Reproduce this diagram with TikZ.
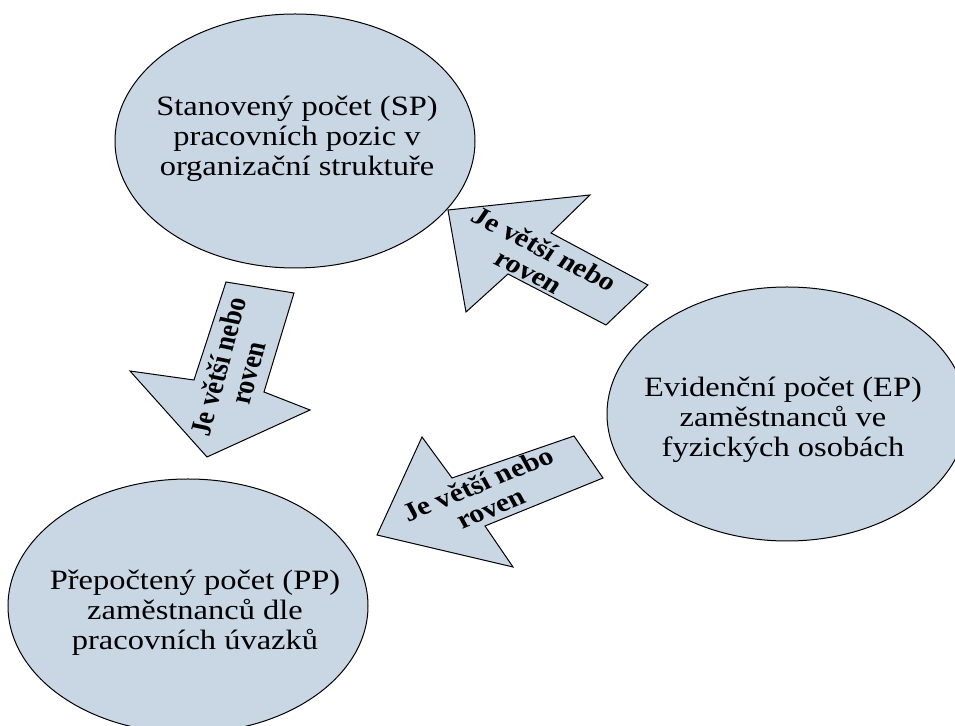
\documentclass[tikz,border=0pt]{standalone}
\usepackage{fontspec}
\setmainfont{Liberation Serif}
\usetikzlibrary{shapes.geometric}

\definecolor{bubblefill}{HTML}{C9D6E4}

\begin{document}
\begin{tikzpicture}[
        x=0.5pt, y=-0.5pt,
        bubble/.style={ellipse, draw, fill=bubblefill, line width=0.5pt, inner sep=0pt,
            minimum width=180pt, minimum height=127pt},
        bubbletext/.style={align=center, font=\fontsize{14}{15}\selectfont, xscale=1.16},
        bigarrow/.style={draw, fill=bubblefill, line width=0.5pt, line join=miter},
        arrowtext/.style={align=center, font=\fontsize{13}{13.2}\selectfont\bfseries, xscale=1.15}
    ]
    \useasboundingbox (0,0) rectangle (955,726);
    \clip (0,0) rectangle (955,726);

    % the three counts
    \node[bubble] (sp) at (295,141) {};
    \node[bubble] (ep) at (787,414) {};
    \node[bubble] (pp) at (188,606) {};

    \node[bubbletext] (sp-text) at (297,139) {Stanovený počet (SP)\\ pracovních pozic v\\ organizační struktuře};
    \node[bubbletext] (ep-text) at (783,420) {Evidenční počet (EP)\\ zaměstnanců ve\\ fyzických osobách};
    \node[bubbletext] (pp-text) at (195,613) {Přepočtený počet (PP)\\ zaměstnanců dle\\ pracovních úvazků};

    % block arrows
    \draw[bigarrow] (448,210) -- (590,195) -- (551,233) -- (648,285) -- (606,325) -- (508,274) -- (466,312) -- cycle;
    \draw[bigarrow] (226,282) -- (294,293) -- (264,392) -- (310,410) -- (207,457) -- (130,371) -- (194,380) -- cycle;
    \draw[bigarrow] (377,535) -- (422,437) -- (452,478) -- (574,436) -- (603,478) -- (485,526) -- (513,567) -- cycle;

    \node[arrowtext, rotate=-30.6] (ep-sp) at (537,260) {Je větší nebo\\ roven};
    \node[arrowtext, rotate=76.5] (sp-pp) at (233,370) {Je větší nebo\\ roven};
    \node[arrowtext, rotate=25.2] (ep-pp) at (484,496) {Je větší nebo\\ roven};
\end{tikzpicture}
\end{document}
